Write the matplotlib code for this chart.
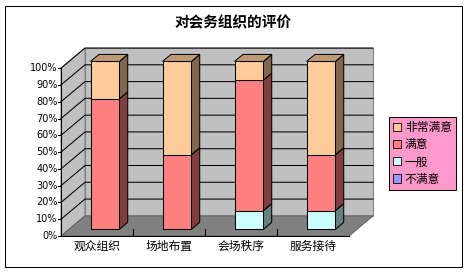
import numpy as np
import matplotlib.pyplot as plt
from matplotlib.patches import Polygon, Patch, Rectangle
from matplotlib.colors import to_rgb

plt.rcParams['font.family'] = ['Noto Sans CJK SC', 'DejaVu Sans']

# data (counts per rating, shown as 100% stacked)
categories = ['观众组织', '场地布置', '会场秩序', '服务接待']
series_names = ['不满意', '一般', '满意', '非常满意']
bu_manyi = [0, 0, 0, 0]
yiban = [0, 0, 1, 1]
manyi = [7, 4, 7, 3]
feichang_manyi = [2, 5, 1, 5]
colors = ['#9999FF', '#CCFFFF', '#FF8080', '#FFCC99']
yticks = [0, 10, 20, 30, 40, 50, 60, 70, 80, 90, 100]

counts = np.array([bu_manyi, yiban, manyi, feichang_manyi], dtype=float)
pct = counts / counts.sum(axis=0) * 100

n = len(categories)
DX, DY = 1 / 3, 12      # oblique depth offset (category units, percent units)
z0, z1 = 0.33, 0.68     # bar depth range
w = 0.4                 # bar width


def proj(x, y, z):
    return (x + z * DX, y + z * DY)


def shade(c, f):
    return tuple(v * f for v in to_rgb(c))


fig = plt.figure(figsize=(4.67, 2.72), dpi=100)
fig.patch.set_facecolor('white')
ax = fig.add_axes([61 / 467, 36 / 272, 312 / 467, 188 / 272])
ax.set_xlim(0, n + DX)
ax.set_ylim(0, 100 + DY)
ax.axis('off')

lw = 0.75
# walls and floor
back = [proj(0, 0, 1), proj(n, 0, 1), proj(n, 100, 1), proj(0, 100, 1)]
left = [proj(0, 0, 0), proj(0, 0, 1), proj(0, 100, 1), proj(0, 100, 0)]
floor = [proj(0, 0, 0), proj(n, 0, 0), proj(n, 0, 1), proj(0, 0, 1)]
ax.add_patch(Polygon(back, closed=True, fc='#C0C0C0', ec='#808080', lw=lw, clip_on=False, zorder=0))
ax.add_patch(Polygon(left, closed=True, fc='#C0C0C0', ec='#808080', lw=lw, clip_on=False, zorder=0))
ax.add_patch(Polygon(floor, closed=True, fc='#808080', ec='#606060', lw=lw, clip_on=False, zorder=0))

# gridlines
for y in yticks[1:]:
    a, b, c = proj(0, y, 0), proj(0, y, 1), proj(n, y, 1)
    ax.plot([a[0], b[0], c[0]], [a[1], b[1], c[1]], color='black', lw=lw, clip_on=False, zorder=1)

# bars
for i in range(n):
    x0, x1 = i + 0.5 - w / 2, i + 0.5 + w / 2
    bottom = 0
    nonzero = [k for k in range(len(series_names)) if pct[k, i] > 0]
    for k in nonzero:
        top = bottom + pct[k, i]
        front = [proj(x0, bottom, z0), proj(x1, bottom, z0), proj(x1, top, z0), proj(x0, top, z0)]
        side = [proj(x1, bottom, z0), proj(x1, bottom, z1), proj(x1, top, z1), proj(x1, top, z0)]
        ax.add_patch(Polygon(side, closed=True, fc=shade(colors[k], 0.5), ec='black', lw=lw,
                             clip_on=False, zorder=3))
        ax.add_patch(Polygon(front, closed=True, fc=colors[k], ec='black', lw=lw,
                             clip_on=False, zorder=3))
        if k == nonzero[-1]:
            cap = [proj(x0, top, z0), proj(x1, top, z0), proj(x1, top, z1), proj(x0, top, z1)]
            ax.add_patch(Polygon(cap, closed=True, fc=shade(colors[k], 0.75), ec='black', lw=lw,
                                 clip_on=False, zorder=3))
        bottom = top

# axes
ax.plot([0, 0], [0, 100], color='black', lw=lw, clip_on=False, zorder=4)
ax.plot([0, n], [0, 0], color='black', lw=lw, clip_on=False, zorder=4)
for y in yticks:
    ax.plot([-0.04, 0], [y, y], color='black', lw=lw, clip_on=False)
    ax.text(-0.045, y, f'{y}%', ha='right', va='center', fontsize=7, family='DejaVu Sans')
for i in range(1, n):
    ax.plot([i, i], [0, 4], color='black', lw=lw, clip_on=False, zorder=2)
for i, cat in enumerate(categories):
    ax.text(i + 0.5, -6, cat, ha='center', va='center', fontsize=8.5)

fig.text(233.5 / 467, 1 - 22 / 272, '对会务组织的评价', ha='center', va='center',
         fontsize=10.5, fontweight='bold')

handles = [Patch(fc=colors[k], ec='black', lw=0.6, label=series_names[k])
           for k in range(len(series_names) - 1, -1, -1)]
leg = fig.legend(handles=handles, loc='upper left', bbox_to_anchor=(389 / 467, 1 - 117 / 272),
                 fontsize=8.5, frameon=True, fancybox=False, handlelength=0.7, handleheight=0.7,
                 handletextpad=0.3, labelspacing=0.35, borderpad=0.35, borderaxespad=0)
leg.get_frame().set_facecolor('#FF99CC')
leg.get_frame().set_edgecolor('black')
leg.get_frame().set_linewidth(lw)
leg.get_frame().set_alpha(1)

fig.patches.append(Rectangle((5 / 467, 5 / 272), 457 / 467, 261 / 272, transform=fig.transFigure,
                             fill=False, ec='black', lw=lw))

fig.savefig('out.png', dpi=100)
